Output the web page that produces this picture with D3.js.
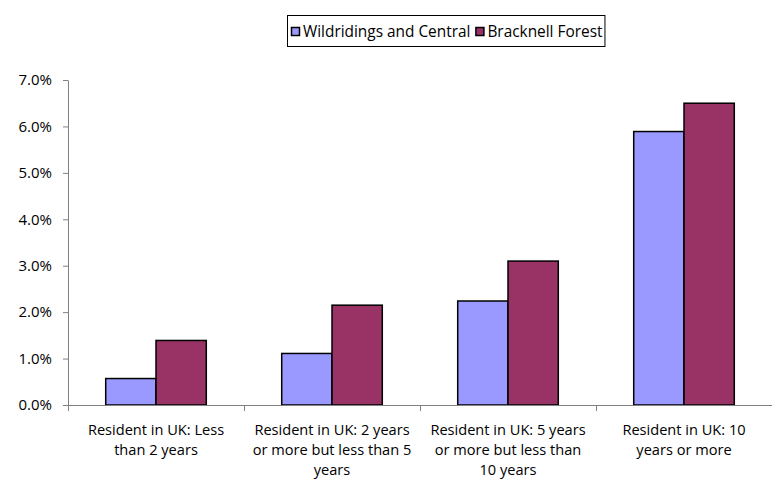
<!DOCTYPE html>
<html>
<head>
<meta charset="utf-8">
<script src="https://cdn.jsdelivr.net/npm/d3@7"></script>
<style>
  body { margin: 0; background: #fff; }
  svg { display: block; font-family: "Open Sans", sans-serif; }
</style>
</head>
<body>
<svg width="772" height="481"></svg>
<script>
// categories, with the line breaks the chart uses
var categories = ["less2", "2to5", "5to10", "10plus"];
var categoryLines = [
  ["Resident in UK: Less", "than 2 years"],
  ["Resident in UK: 2 years", "or more but less than 5", "years"],
  ["Resident in UK: 5 years", "or more but less than", "10 years"],
  ["Resident in UK: 10", "years or more"]
];
var seriesNames = ["Wildridings and Central", "Bracknell Forest"];
var wildridings = [0.0057, 0.0111, 0.0224, 0.0589];
var bracknell = [0.0139, 0.0215, 0.0310, 0.0650];
var yTicks = [0, 0.01, 0.02, 0.03, 0.04, 0.05, 0.06, 0.07];
var colors = ["#9999ff", "#993366"];

var FS = "14.6px";

var svg = d3.select("svg");

var margin = {left: 68, right: 0, top: 80, bottom: 76},
    width = 772 - margin.left - margin.right,
    height = 481 - margin.top - margin.bottom;

var g = svg.append("g")
    .attr("transform", "translate(" + margin.left + "," + margin.top + ")");

// scales
var x = d3.scaleBand().domain(categories).range([0, width]).paddingInner(0).paddingOuter(0);
var bw = x.bandwidth() / 3.5;   // gap width 150%
var xs = d3.scaleBand().domain(seriesNames).range([0.75 * bw, 0.75 * bw + 2 * bw]);
var y = d3.scaleLinear().domain([0, 0.07]).range([height, 0]);

// bars
var data = categories.map(function(c, i) {
  return {cat: c, vals: [wildridings[i], bracknell[i]]};
});

var groups = g.selectAll(".cat").data(data).enter().append("g")
    .attr("class", "cat")
    .attr("transform", function(d) { return "translate(" + x(d.cat) + ",0)"; });

groups.selectAll("rect").data(function(d) {
    return d.vals.map(function(v, j) { return {name: seriesNames[j], v: v, j: j}; });
  }).enter().append("rect")
    .attr("x", function(d) { return xs(d.name); })
    .attr("y", function(d) { return y(d.v); })
    .attr("width", xs.bandwidth())
    .attr("height", function(d) { return height - y(d.v); })
    .attr("fill", function(d) { return colors[d.j]; })
    .attr("stroke", "#000")
    .attr("stroke-width", 1.5);

// y axis
var yAxis = g.append("g")
    .call(d3.axisLeft(y).tickValues(yTicks).tickFormat(d3.format(".1%")).tickSize(5).tickPadding(11));
yAxis.select(".domain").attr("stroke", "#808080").attr("d", "M0.5," + height + "V0.5");
yAxis.selectAll(".tick line").attr("stroke", "#808080");
yAxis.selectAll("text").attr("font-size", "15px").attr("fill", "#000")
    .attr("font-family", "'Open Sans', sans-serif");

// x axis (ticks on category boundaries)
var xAxis = g.append("g").attr("transform", "translate(0," + height + ")");
xAxis.append("line")
    .attr("x1", -5).attr("x2", width)
    .attr("y1", 0.5).attr("y2", 0.5)
    .attr("stroke", "#808080");
xAxis.selectAll(".xt").data(categories.concat(["end"])).enter().append("line")
    .attr("class", "xt")
    .attr("x1", function(d, i) { return i * x.step() + 0.5; })
    .attr("x2", function(d, i) { return i * x.step() + 0.5; })
    .attr("y1", 0).attr("y2", 6)
    .attr("stroke", "#808080");

var labels = xAxis.selectAll(".xl").data(categories).enter().append("text")
    .attr("class", "xl")
    .attr("text-anchor", "middle")
    .attr("font-size", FS)
    .attr("transform", function(d) { return "translate(" + (x(d) + x.bandwidth() / 2) + ",30)"; });
labels.selectAll("tspan").data(function(d, i) { return categoryLines[i]; })
  .enter().append("tspan")
    .attr("x", 0)
    .attr("dy", function(d, i) { return i === 0 ? 0 : 20; })
    .text(function(d) { return d; });

// legend
var legend = svg.append("g").attr("transform", "translate(287,15)");
var box = legend.append("rect")
    .attr("x", 0.5).attr("y", 0.5)
    .attr("width", 319).attr("height", 31)
    .attr("fill", "#fff").attr("stroke", "#000");

var items = legend.selectAll(".li").data(seriesNames).enter().append("g")
    .attr("class", "li");
items.append("rect")
    .attr("x", 0.5).attr("y", 12.5).attr("width", 8).attr("height", 8)
    .attr("fill", function(d, i) { return colors[i]; })
    .attr("stroke", "#000").attr("stroke-width", 1.5);
items.append("text")
    .attr("x", 12).attr("y", 21.5)
    .attr("font-size", "15.4px")
    .text(function(d) { return d; });

var lx = 4;
items.each(function() {
  d3.select(this).attr("transform", "translate(" + lx + ",0)");
  lx += 12 + d3.select(this).select("text").node().getComputedTextLength() + 5;
});
box.attr("width", lx - 3);
</script>
</body>
</html>
